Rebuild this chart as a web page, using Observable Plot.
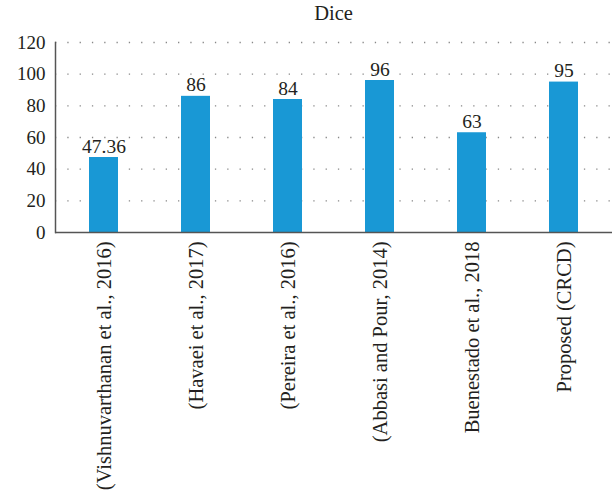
<!DOCTYPE html>
<html>
<head>
<meta charset="utf-8">
<script src="https://cdn.jsdelivr.net/npm/d3@7"></script>
<script src="https://cdn.jsdelivr.net/npm/@observablehq/plot@0.6"></script>
<style>
  body { margin: 0; background: #fff; }
  #title { width: 616px; height: 28px; font-family: "Liberation Serif", serif; font-size: 20.5px; color: #231f20; }
  #title span { position: absolute; left: 333.5px; top: 2px; transform: translateX(-50%); }
  #chart svg text { font-family: "Liberation Serif", serif; }
</style>
</head>
<body>
<div id="title"><span>Dice</span></div>
<div id="chart"></div>
<script>
const methods = [
  "(Vishnuvarthanan et al., 2016)",
  "(Havaei et al., 2017)",
  "(Pereira et al., 2016)",
  "(Abbasi and Pour, 2014)",
  "Buenestado et al., 2018",
  "Proposed (CRCD)"
];
const dice = [47.36, 86, 84, 96, 63, 95];
const valueLabels = ["47.36", "86", "84", "96", "63", "95"];
const yTicks = [0, 20, 40, 60, 80, 100, 120];

const data = methods.map((m, i) => ({method: m, value: dice[i], label: valueLabels[i]}));

const chart = Plot.plot({
  width: 616,
  height: 474,
  marginLeft: 55,
  marginRight: 4,
  marginTop: 14,
  marginBottom: 270,
  style: {fontFamily: "'Liberation Serif', serif", fontSize: "19px", color: "#231f20", background: "#fff"},
  x: {domain: methods, paddingInner: 0.69, paddingOuter: 0.345, label: null},
  y: {domain: [0, 120], ticks: yTicks, label: null},
  marks: [
    Plot.gridY(yTicks.filter(d => d > 0), {stroke: "#888", strokeOpacity: 1, strokeWidth: 1.3, strokeDasharray: "1.3,11"}),
    Plot.barY(data, {x: "method", y: "value", fill: "#1998d5"}),
    Plot.text(data, {x: "method", y: "value", text: "label", lineAnchor: "bottom", dy: -5, fontSize: 19.5, fill: "#231f20"}),
    Plot.axisY({ticks: yTicks, tickSize: 0, tickPadding: 10, fontSize: 19, fill: "#231f20", label: null}),
    Plot.axisX({tickSize: 0, tickPadding: 9, tickRotate: -90, fontSize: 20.5, fill: "#231f20", label: null}),
    Plot.frame({anchor: "left", stroke: "#555", strokeWidth: 1.5}),
    Plot.ruleY([0], {stroke: "#555", strokeWidth: 1.5})
  ]
});
document.getElementById("chart").appendChild(chart);
</script>
</body>
</html>
